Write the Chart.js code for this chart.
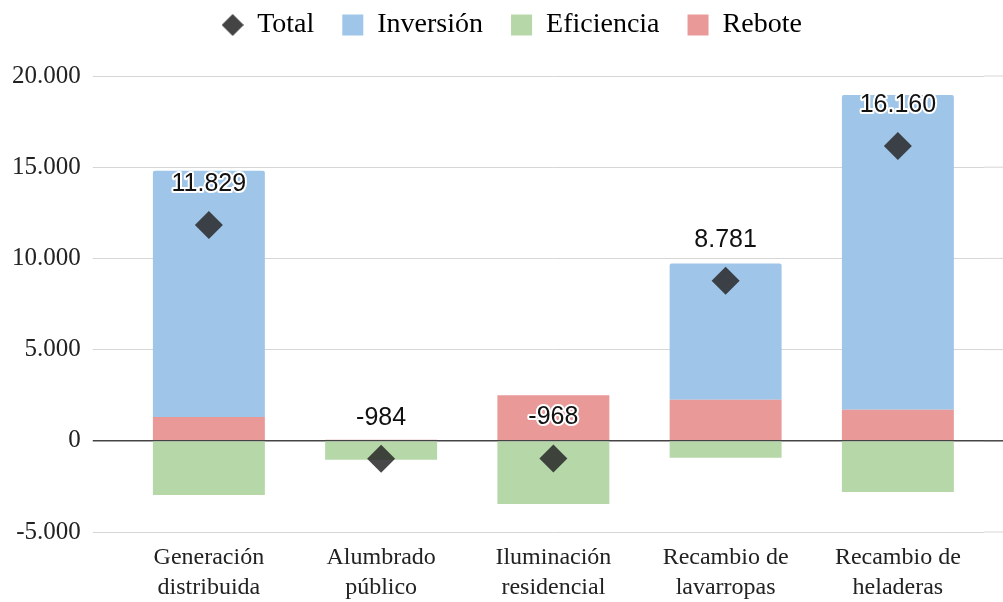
<!DOCTYPE html>
<html>
<head>
<meta charset="utf-8">
<script src="https://cdn.jsdelivr.net/npm/chart.js@4/dist/chart.umd.min.js"></script>
<style>
  html, body { margin: 0; padding: 0; background: #fff; }
  #wrap { width: 1003px; height: 602px; }
</style>
</head>
<body>
<div id="wrap"><canvas id="grafico"></canvas></div>
<script>
var categorias = [["Generación", "distribuida"], ["Alumbrado", "público"], ["Iluminación", "residencial"], ["Recambio de", "lavarropas"], ["Recambio de", "heladeras"]];
var total = [11829, -984, -968, 8781, 16160];
var inversion = [13500, 0, 0, 7462, 17259];
var eficiencia = [-2971, -1040, -3468, -934, -2802];
var rebote = [1300, 56, 2500, 2253, 1703];
var ticksY = [-5000, 0, 5000, 10000, 15000, 20000];

var serif = "'Liberation Serif', 'Times New Roman', serif";

function miles(v){
    var s = Math.abs(v).toString().replace(/\B(?=(\d{3})+(?!\d))/g, ".");
    return (v < 0 ? "-" : "") + s;
}

// rombo chico para la leyenda
var rombo = document.createElement("canvas");
rombo.width = 22; rombo.height = 22;
(function(){
    var c = rombo.getContext("2d");
    c.fillStyle = "#444";
    c.beginPath();
    c.moveTo(11, 0); c.lineTo(22, 11); c.lineTo(11, 22); c.lineTo(0, 11);
    c.closePath();
    c.fill();
})();

// etiquetas de los totales con borde blanco
var etiquetas = {
    id: "etiquetas",
    afterDatasetsDraw: function(chart){
        var ctx = chart.ctx;
        var meta = chart.getDatasetMeta(0);
        ctx.save();
        ctx.font = "25px 'Liberation Sans', Arial, sans-serif";
        ctx.textAlign = "center";
        ctx.textBaseline = "middle";
        ctx.lineJoin = "round";
        meta.data.forEach(function(p, i){
            var txt = miles(total[i]);
            ctx.lineWidth = 4;
            ctx.strokeStyle = "#fff";
            ctx.strokeText(txt, p.x, p.y - 41);
            ctx.fillStyle = "#111";
            ctx.fillText(txt, p.x, p.y - 41);
        });
        ctx.restore();
    }
};

// prolonga las lineas de la grilla hasta el borde derecho
var grillaDerecha = {
    id: "grillaDerecha",
    beforeDatasetsDraw: function(chart){
        var ctx = chart.ctx, y = chart.scales.y, area = chart.chartArea;
        ctx.save();
        y.ticks.forEach(function(t){
            var py = y.getPixelForValue(t.value);
            ctx.beginPath();
            ctx.lineWidth = t.value === 0 ? 1.5 : 1;
            ctx.strokeStyle = t.value === 0 ? "#444" : "#d6d6d6";
            ctx.moveTo(area.right, py);
            ctx.lineTo(chart.width, py);
            ctx.stroke();
        });
        ctx.restore();
    }
};

// mas espacio debajo de la leyenda y un poco corrida a la derecha
var ajusteLeyenda = {
    id: "ajusteLeyenda",
    beforeInit: function(chart){
        var fit = chart.legend.fit;
        chart.legend.fit = function(){
            fit.call(this);
            this.height += 27;
        };
    },
    afterLayout: function(chart){
        chart.legend.left += 20;
        chart.legend.right += 20;
    }
};

var orden = [0, 3, 2, 1];

new Chart(document.getElementById("grafico"), {
    type: "bar",
    data: {
        labels: categorias,
        datasets: [
            {
                type: "line",
                label: "Total",
                data: total,
                showLine: false,
                pointStyle: "rectRot",
                pointRadius: 14,
                pointHoverRadius: 14,
                backgroundColor: "rgba(40,40,40,0.85)",
                borderColor: "rgba(40,40,40,0)",
                borderWidth: 0,
                order: 0
            },
            { label: "Rebote", data: rebote, backgroundColor: "#ea9999", stack: "s", order: 1 },
            { label: "Eficiencia", data: eficiencia, backgroundColor: "#b6d7a8", stack: "s", order: 1 },
            { label: "Inversión", data: inversion, backgroundColor: "#9fc5e8", stack: "s", order: 1,
              borderRadius: { topLeft: 2, topRight: 2 }, borderSkipped: "bottom" }
        ]
    },
    options: {
        responsive: true,
        maintainAspectRatio: false,
        animation: false,
        layout: { padding: { left: 0, right: 19, top: -17, bottom: -12 } },
        datasets: { bar: { categoryPercentage: 1, barPercentage: 0.65 } },
        plugins: {
            tooltip: { enabled: false },
            legend: {
                position: "top",
                labels: {
                    usePointStyle: true,
                    boxWidth: 21,
                    boxHeight: 21,
                    padding: 28,
                    color: "#222",
                    font: { family: serif, size: 28 },
                    sort: function(a, b){ return orden.indexOf(a.datasetIndex) - orden.indexOf(b.datasetIndex); },
                    generateLabels: function(chart){
                        return chart.data.datasets.map(function(ds, i){
                            return {
                                text: ds.label,
                                fillStyle: ds.backgroundColor,
                                strokeStyle: "rgba(0,0,0,0)",
                                lineWidth: 0,
                                pointStyle: i === 0 ? rombo : "rect",
                                datasetIndex: i,
                                hidden: false
                            };
                        });
                    }
                }
            }
        },
        scales: {
            x: {
                stacked: true,
                grid: { display: false, drawTicks: false },
                border: { display: false },
                ticks: {
                    color: "#222",
                    padding: 11,
                    font: { family: serif, size: 24, lineHeight: 1.25 }
                }
            },
            y: {
                stacked: true,
                min: -5000,
                max: 20000,
                afterBuildTicks: function(axis){
                    axis.ticks = ticksY.map(function(v){ return { value: v }; });
                },
                border: { display: false },
                grid: {
                    tickLength: 30,
                    color: function(c){ return c.tick && c.tick.value === 0 ? "#444" : "#d6d6d6"; },
                    lineWidth: function(c){ return c.tick && c.tick.value === 0 ? 1.5 : 1; }
                },
                ticks: {
                    color: "#222",
                    padding: 12,
                    font: { family: serif, size: 25 },
                    callback: function(v){ return miles(v); }
                }
            }
        }
    },
    plugins: [etiquetas, grillaDerecha, ajusteLeyenda]
});
</script>
</body>
</html>
